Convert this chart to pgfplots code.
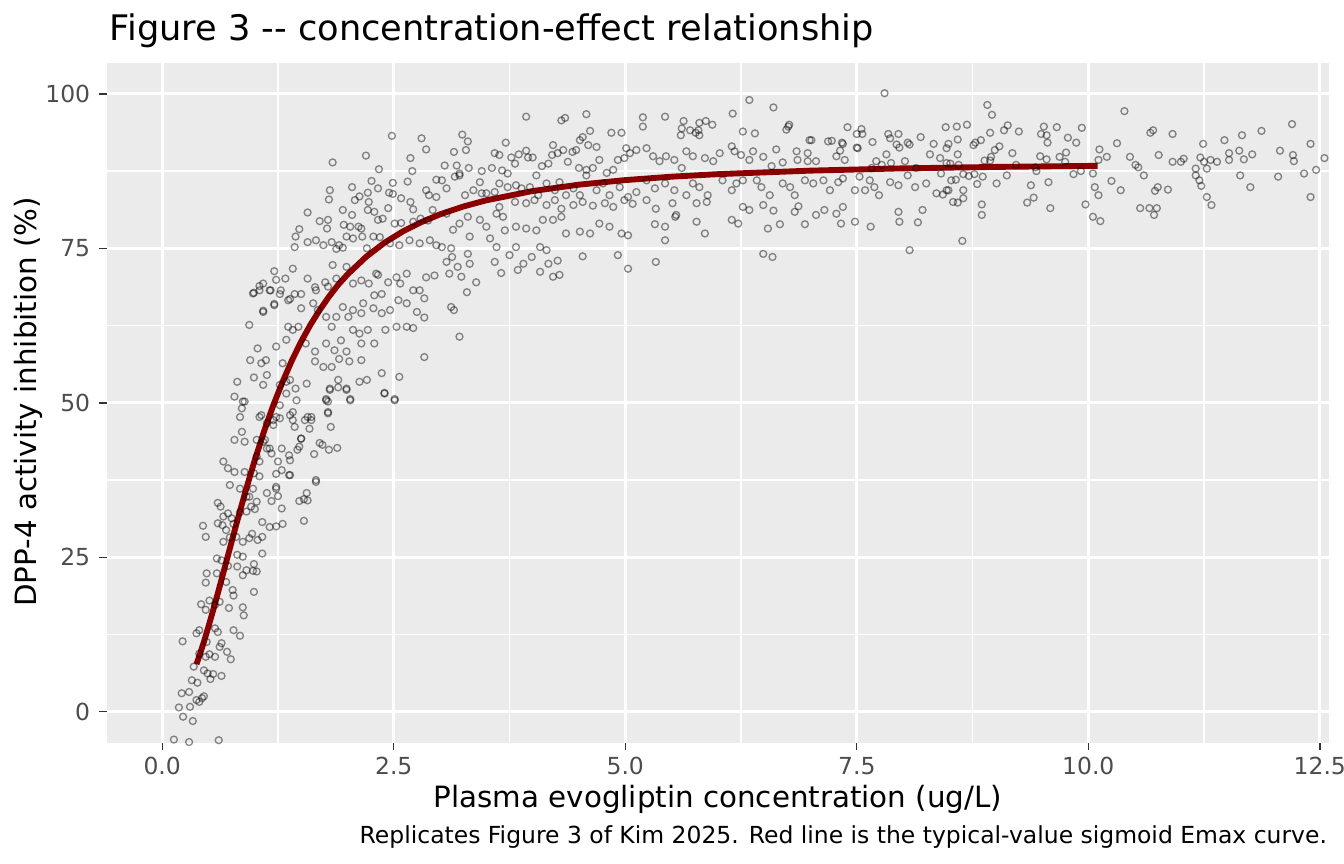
\documentclass[border=0pt]{standalone}
\usepackage{fontspec}
\setmainfont{DejaVu Sans}
\usepackage{pgfplots}
\pgfplotsset{compat=1.18}
\definecolor{panelbg}{HTML}{EBEBEB}
\definecolor{tickcol}{HTML}{333333}
\definecolor{ticklab}{HTML}{4D4D4D}
\definecolor{curvecol}{HTML}{8B0000}
\pgfplotsset{pts/.style={only marks, mark=o, mark size=1.3pt, mark options={draw=black, draw opacity=0.45, line width=0.5pt}}}
\begin{document}
\begin{tikzpicture}[x=1pt,y=1pt]
\path[use as bounding box] (0,0) rectangle (504,324);
\begin{axis}[
  at={(40pt,45.5pt)}, anchor=south west,
  width=458.4pt, height=254.9pt, scale only axis,
  xmin=-0.6, xmax=12.6, ymin=-5, ymax=105,
  axis background/.style={fill=panelbg},
  axis line style={draw=none},
  xtick={0,2.5,5,7.5,10,12.5}, xticklabels={0.0,2.5,5.0,7.5,10.0,12.5},
  ytick={0,25,50,75,100}, yticklabels={0,25,50,75,100},
  minor xtick={1.25,3.75,6.25,8.75,11.25},
  minor ytick={12.5,37.5,62.5,87.5},
  grid=both,
  major grid style={white, line width=1.07pt},
  minor grid style={white, line width=0.53pt},
  tick align=outside, tick pos=left,
  major tick length=2.75pt, minor tick length=0pt,
  major tick style={tickcol, line width=0.53pt},
  ticklabel style={font=\fontsize{8.8}{10}\selectfont, text=ticklab},
  xticklabel style={anchor=north, inner sep=0pt, yshift=-2.55pt},
  yticklabel style={anchor=east, inner sep=0pt, xshift=-3.25pt},
  clip=true,
]
% region x<2 low part
\addplot[pts] coordinates {
(0.126,-4.5) (0.29,-4.9) (0.61,-4.6) (0.225,-0.8) (0.33,-1.5) (0.18,0.7) (0.30,0.8) (0.21,3.0) (0.29,3.2) (0.32,5.1) (0.38,4.7) (0.22,11.4) (0.37,1.9) (0.40,1.6) (0.43,2.2) (0.45,2.5) (0.34,7.3) (0.45,6.7) (0.49,6.2) (0.55,6.1) (0.64,5.8) (0.52,5.3)
(0.40,9.4) (0.47,8.9) (0.51,9.3) (0.57,8.9) (0.62,10.5) (0.70,9.7) (0.74,8.5)
(0.37,12.7) (0.40,13.2) (0.48,11.3) (0.57,13.5) (0.60,12.9) (0.64,11.1) (0.77,13.2) (0.84,12.3)
(0.42,17.4) (0.47,16.5) (0.51,18.0) (0.57,17.3) (0.62,17.8) (0.72,16.8) (0.87,16.9) (0.88,15.6)
(0.48,22.4) (0.59,22.4) (0.47,20.9) (0.69,21.0) (0.76,19.7) (0.77,18.8) (0.87,22.1) (0.98,22.8) (0.99,19.4) (1.02,22.7)
(0.59,24.8) (0.64,24.5) (0.71,23.6) (0.81,23.5) (0.81,25.4) (0.87,25.1) (0.91,22.9) (0.99,23.9) (1.08,25.6)
(0.44,30.1) (0.47,28.3) (0.60,30.5) (0.65,30.2) (0.69,29.4) (0.66,27.5) (0.73,28.2) (0.80,28.3) (0.87,27.5) (0.94,28.1) (0.97,28.8) (1.03,27.8) (1.08,28.3) (1.08,30.7) (1.16,29.9) (1.23,30.0) (1.30,30.4) (1.53,30.9)
(0.60,33.8) (0.63,33.2) (0.66,31.6) (0.71,32.1) (0.75,31.3) (0.77,30.4) (0.84,32.3) (0.91,32.4) (0.91,34.8) (0.96,33.2) (1.00,32.8) (1.02,34.0) (1.05,38.1) (0.99,38.6) (1.13,35.4) (1.18,34.1) (1.23,36.1) (1.25,34.9) (1.29,32.9) (1.38,38.3) (1.48,34.1) (1.53,34.4) (1.57,34.2) (1.56,35.4) (1.66,37.2)
(0.66,40.5) (0.71,39.4) (0.78,38.8) (0.73,36.7) (0.84,36.1) (0.89,38.8) (0.94,34.8) (0.98,36.1) (1.02,41.3) (1.05,40.5) (1.09,43.7) (1.13,42.6) (1.18,41.8) (1.23,38.5) (1.25,40.5) (1.23,36.4) (1.29,39.1) (1.37,38.3) (1.37,41.5) (1.38,40.7) (1.46,42.4) (1.50,44.2) (1.48,42.9) (1.64,41.7) (1.70,43.5) (1.66,37.5) (1.73,43.2) (1.80,42.4) (1.89,42.7)
(0.78,44.0) (0.86,45.3) (0.87,50.2) (0.89,43.7) (1.02,44.0) (1.11,44.0) (1.16,42.6) (1.20,47.2) (1.07,48.0) (1.20,46.4) (1.27,47.5) (1.29,42.6) (1.34,51.5) (1.34,53.4) (1.41,48.5) (1.45,50.4) (1.41,47.2) (1.57,47.7) (1.61,47.2) (1.59,45.8) (1.50,44.2) (1.79,48.5) (1.82,46.1) (1.77,50.6) (1.81,52.3) (1.90,52.5) (1.99,52.3) (2.03,50.6) (2.40,51.6) (2.51,50.6)
};
% region x 0.8-3
\addplot[pts] coordinates {
(2.48,93.2) (2.80,92.8) (2.85,91.0) (2.20,90.0) (1.84,88.9) (2.68,89.6) (2.34,87.8) (2.70,87.5) (2.96,86.1)
(2.05,84.9) (2.26,85.9) (2.49,85.6) (2.65,85.8) (1.81,84.4) (1.80,82.9) (2.08,82.8)
(2.13,83.4) (2.22,84.0) (2.23,82.5) (2.33,84.7) (2.45,84.0) (2.49,83.8) (2.58,83.1) (2.68,82.5) (2.85,84.4) (2.88,83.6) (2.96,83.3)
(1.57,80.8) (1.70,79.4) (1.79,79.6) (1.78,78.2) (1.95,81.2) (2.05,80.4) (1.96,78.8) (2.03,78.5) (2.12,78.5) (2.15,78.2) (2.22,81.2) (2.29,80.9) (2.33,79.6) (2.38,79.8) (2.44,81.5) (2.51,79.0) (2.58,79.1) (2.71,79.3) (2.71,81.3) (2.79,79.8) (2.87,79.5) (2.92,81.2)
(1.48,78.1) (1.44,76.9) (1.43,75.2) (1.57,76.0) (1.66,76.3) (1.74,75.5) (1.83,76.0) (1.88,74.9) (1.91,75.5) (1.95,75.1) (1.99,76.9) (2.06,76.6) (2.16,76.9) (2.21,75.0) (2.28,76.9) (2.35,76.8) (2.46,75.8) (2.56,75.5) (2.67,76.3) (2.78,75.8) (2.89,76.3) (2.96,75.5)
(1.41,71.7) (1.21,71.3) (1.33,70.1) (1.23,69.9) (1.09,69.3) (1.05,68.2) (0.99,67.8) (1.16,68.2) (1.27,67.6) (1.38,66.8) (1.43,67.6) (1.50,67.6) (1.57,70.1) (1.65,68.7) (1.66,68.2) (1.76,69.5) (1.79,68.8) (1.88,70.1) (1.84,72.3) (1.99,72.0) (2.06,69.3) (2.15,69.8) (2.23,69.3) (2.31,70.9) (2.33,70.7) (2.29,67.4) (2.37,67.6) (2.44,69.5) (2.53,70.3) (2.57,69.3) (2.64,70.9) (2.71,68.2) (2.78,68.2) (2.85,70.3) (2.94,70.6) (2.83,66.9)
(0.94,62.6) (1.09,64.7) (1.21,65.8) (1.36,66.6) (1.50,65.3) (1.63,66.1) (1.68,65.0) (1.77,63.9) (1.83,62.3) (1.88,63.9) (1.95,65.5) (2.01,63.9) (2.06,65.0) (2.15,64.5) (2.17,66.1) (2.28,65.3) (2.37,64.5) (2.46,65.0) (2.55,66.6) (2.64,66.1) (2.75,64.7) (2.83,63.8)
(1.03,58.8) (1.12,56.9) (0.95,56.9) (1.07,56.4) (1.23,59.1) (1.30,56.4) (1.36,62.3) (1.34,60.2) (1.41,61.8) (1.47,62.3) (1.55,59.6) (1.65,58.3) (1.65,56.7) (1.74,55.8) (1.83,55.8) (1.77,59.6) (1.86,58.5) (1.93,60.1) (1.91,57.1) (1.99,58.3) (2.02,56.7) (2.06,61.8) (2.13,61.2) (2.22,61.8) (2.29,59.6) (2.15,59.6) (2.41,61.8) (2.53,62.3) (2.64,62.3) (2.71,62.1) (2.83,57.4) (2.56,54.2) (2.15,56.9)
(0.81,53.4) (0.99,54.1) (1.09,52.9) (1.13,54.5) (1.27,52.9) (1.38,53.7) (1.44,52.3) (1.56,53.1) (1.77,50.4) (1.81,52.1) (1.90,53.7) (1.99,52.1) (2.03,50.4) (2.13,53.4) (2.21,53.7) (2.40,51.5) (2.51,50.4) (2.37,54.8)
(0.78,51.0) (0.89,50.2) (0.86,49.1) (0.84,47.7) (1.05,47.7) (1.13,46.7) (1.23,47.7) (1.27,49.6) (1.38,48.0) (1.43,46.1) (1.54,47.2) (1.61,47.7) (1.79,48.3) (1.79,50.2)
(0.98,67.7) (1.05,68.9) (1.09,64.9) (1.21,66.0) (1.17,68.2) (1.28,68.2)
};
% region x 3-5.2
\addplot[pts] coordinates {
(3.93,96.3) (4.31,95.7) (4.35,96.1) (4.58,96.7) (3.24,93.4) (3.30,92.3) (3.28,90.9) (3.15,90.6) (3.71,92.1) (4.62,94.0) (4.54,93.0) (4.51,92.5) (4.60,91.7) (4.69,91.4) (4.85,93.7) (4.96,93.7) (5.01,91.2)
(3.05,88.4) (3.18,88.4) (3.21,86.8) (3.31,88.0) (3.45,87.5) (3.56,88.0) (3.59,90.4) (3.64,90.1) (3.67,87.6) (3.73,87.1) (3.81,88.7) (3.77,89.7) (3.85,90.2) (3.93,90.8) (3.95,89.7) (4.00,89.7) (4.04,86.8) (4.10,88.3) (4.17,88.7) (4.22,91.7) (4.21,90.1) (4.27,90.4) (4.33,90.9) (4.38,89.0) (4.43,90.6) (4.47,90.9) (4.50,88.0) (4.58,87.7) (4.65,88.0) (4.72,89.3) (4.80,87.2) (4.87,87.7) (4.92,89.3) (4.99,89.6) (5.05,90.4) (5.12,90.9)
(3.02,86.0) (3.16,86.6) (3.21,87.1) (3.07,84.7) (3.27,83.6) (3.36,84.4) (3.43,85.7) (3.45,83.9) (3.50,83.9) (3.59,84.1) (3.64,85.5) (3.73,84.9) (3.82,85.2) (3.88,84.7) (3.97,84.9) (4.06,83.6) (4.15,85.5) (4.24,84.4) (4.29,85.7) (4.36,83.6) (4.44,84.7) (4.51,83.6) (4.58,86.8) (4.69,84.4) (4.76,85.5) (4.83,83.6) (4.94,84.9) (5.03,83.3) (5.12,84.1) (3.64,81.7) (3.81,82.5) (3.93,82.3) (4.02,82.8) (4.15,82.0) (4.24,82.8) (4.31,81.4) (4.44,82.0) (4.54,82.5) (4.65,81.9) (4.78,82.3) (4.87,81.7) (4.99,82.8) (5.08,82.2)
(3.07,80.6) (3.21,79.0) (3.30,80.1) (3.43,79.6) (3.50,78.5) (3.61,80.6) (3.68,80.1) (3.70,77.9) (3.82,78.5) (3.93,78.2) (4.04,77.9) (4.11,79.6) (4.22,79.6) (4.31,80.1) (4.36,77.4) (4.51,77.7) (4.62,77.4) (4.72,79.0) (4.83,78.5) (4.96,77.4) (5.03,77.1) (3.12,75.0) (3.30,74.1) (3.54,76.6) (3.61,75.2) (3.75,73.9) (3.82,75.2) (3.90,72.5) (3.99,73.6) (4.08,75.2) (4.17,72.5) (4.27,73.0) (4.15,74.7) (4.54,73.7) (4.92,73.9) (3.32,76.9) (3.14,78.0)
(3.02,75.2) (3.07,72.8) (3.13,73.6) (3.19,72.0) (3.10,70.9) (3.23,70.4) (3.32,72.5) (3.39,69.5) (3.29,67.9) (3.12,65.5) (3.15,65.0) (3.21,60.7) (3.59,72.8) (3.66,71.0) (3.84,71.5) (4.08,71.2) (4.22,70.4) (4.29,70.7) (5.03,71.7)
};
% region x 5.2-8.5
\addplot[pts] coordinates {
(7.80,100.1) (6.34,99.0) (6.60,97.8) (5.43,96.3) (5.19,96.2) (5.19,94.7) (6.16,96.8)
(5.63,95.6) (5.61,94.4) (5.60,93.3) (5.70,94.1) (5.79,94.1) (5.80,95.3) (5.87,95.6) (5.94,95.0) (5.76,93.7) (5.80,93.3)
(6.27,93.9) (6.40,93.6) (6.76,94.7) (6.77,95.0) (6.74,94.2) (6.99,92.5) (7.01,92.5) (7.23,92.4) (7.35,91.9) (7.40,94.6) (7.55,94.3) (7.50,93.5) (7.56,93.5) (7.67,92.2) (7.84,93.5) (7.95,93.5) (7.86,92.8) (8.19,93.0) (8.33,91.9) (8.46,94.6) (8.49,91.9) (8.05,92.1) (7.93,91.8) (7.96,91.3) (7.82,90.2) (7.71,89.1) (7.50,91.3) (7.32,90.8)
(5.23,91.2) (5.30,89.9) (5.37,89.1) (5.44,89.9) (5.53,89.3) (5.61,88.0) (5.66,90.7) (5.73,89.9) (5.86,89.6) (5.95,89.1) (6.02,90.4) (6.15,91.5) (6.18,90.7) (6.25,90.1) (6.34,89.3) (6.38,90.7) (6.49,89.8) (6.63,91.0) (6.58,88.3) (6.70,88.9) (6.85,90.7) (6.86,89.3) (6.97,90.4) (6.97,89.1) (7.06,89.1) (7.19,92.3) (7.28,89.9) (7.37,89.3) (7.51,91.2) (7.66,88.0) (7.77,88.5) (7.87,88.8) (8.02,89.1) (8.14,88.0) (8.29,90.2) (8.40,89.6) (8.47,88.8) (8.47,91.2) (8.07,91.8) (7.34,92.1)
(5.23,86.0) (5.32,84.7) (5.43,85.5) (5.53,84.4) (5.66,83.6) (5.73,85.5) (5.80,84.9) (5.89,83.6) (6.05,86.0) (6.15,84.4) (6.20,85.5) (6.27,86.0) (6.42,86.0) (6.47,84.9) (6.56,83.6) (6.70,85.5) (6.78,84.9) (6.83,83.6) (6.94,86.0) (7.03,85.5) (7.14,86.0) (7.21,84.4) (7.30,85.7) (7.35,86.3) (7.48,84.4) (7.53,86.6) (7.64,86.0) (7.69,84.9) (7.74,83.6) (7.86,85.7) (7.95,85.2) (8.05,86.8) (8.13,84.9) (8.25,85.5) (8.36,83.9) (8.41,87.1) (8.47,84.4)
(5.23,82.8) (5.33,81.4) (5.51,82.3) (5.55,80.4) (5.54,80.1) (5.77,82.3) (5.88,82.5) (5.86,77.4) (6.27,81.7) (6.34,81.2) (6.49,82.0) (6.60,81.1) (6.67,78.9) (6.49,74.1) (6.59,73.6) (6.54,78.2) (6.83,80.9) (6.87,81.8) (6.94,78.9) (7.06,80.4) (7.15,81.2) (7.28,80.6) (7.35,81.7) (7.33,79.0) (7.48,79.3) (7.59,84.4) (7.65,78.5) (7.95,80.9) (7.96,79.3) (8.07,74.7) (8.16,79.2) (8.21,81.2) (8.43,83.7) (8.49,84.4) (6.15,79.6) (6.22,79.0) (5.77,79.3) (5.43,78.5) (5.43,76.3) (5.32,78.9) (5.33,72.8)
};
% region x > 8.5
\addplot[pts] coordinates {
(8.91,98.2) (8.96,96.6) (8.69,95.0) (8.58,94.7) (8.59,92.6) (8.76,91.7) (8.78,92.1) (8.84,92.5) (8.94,93.7) (9.09,94.1) (9.13,94.9) (9.25,93.9) (9.04,91.5) (8.99,90.9) (8.95,89.8) (8.88,89.2) (8.94,89.2) (9.18,90.4) (9.22,88.5) (9.12,86.8) (9.01,85.5) (8.80,85.4) (8.86,86.6) (8.77,87.0) (8.71,86.7) (8.65,87.0) (8.59,90.2) (8.60,88.5) (8.51,88.7) (8.57,86.1) (8.52,86.0) (8.65,84.4) (8.65,83.1) (8.59,82.4) (8.54,82.5) (8.85,82.1) (8.85,80.4) (8.64,76.2)
(9.52,94.7) (9.49,93.5) (9.55,93.3) (9.56,92.1) (9.66,94.6) (9.78,92.9) (9.87,92.1) (9.93,94.5) (9.48,89.9) (9.55,89.4) (9.69,89.8) (9.76,90.5) (9.75,89.0) (9.43,88.1) (9.44,87.5) (9.84,87.0) (9.92,87.5) (9.38,85.2) (9.57,85.7) (9.41,83.2) (9.34,82.4) (9.59,81.5) (9.97,82.1)
(10.05,87.1) (10.12,91.0) (10.11,89.3) (10.20,89.8) (10.07,84.9) (10.11,83.6) (10.05,80.1) (10.13,79.4) (10.25,85.9) (10.31,92.0) (10.35,84.4) (10.39,97.2) (10.45,89.8) (10.51,88.5) (10.54,88.1) (10.60,86.8) (10.67,93.7) (10.70,94.1) (10.76,90.1) (10.75,84.9) (10.72,84.3) (10.86,84.5) (10.56,81.5) (10.66,81.5) (10.74,81.5) (10.71,80.4) (10.91,93.5) (10.91,89.0)
(11.00,89.0) (11.03,89.5) (11.16,87.9) (11.16,86.8) (11.20,86.0) (11.22,85.1) (11.21,89.7) (11.24,91.9) (11.25,89.0) (11.28,87.9) (11.28,83.3) (11.33,82.0) (11.32,89.3) (11.39,89.0) (11.47,92.5) (11.52,90.4) (11.52,89.3) (11.63,90.8) (11.68,89.4) (11.66,93.3) (11.64,86.8) (11.77,90.2) (11.75,84.9) (11.87,94.0) (12.07,90.8) (12.05,86.6) (12.20,95.1) (12.21,90.1) (12.22,89.1) (12.33,87.1) (12.40,91.9) (12.40,83.3) (12.46,87.7) (12.55,89.6)
};
% typical-value sigmoid Emax curve
\addplot[curvecol, line width=2.2pt, line cap=butt, line join=round] coordinates {
(0.37,7.70) (0.40,9.0) (0.45,11.31) (0.50,13.82) (0.55,16.44) (0.60,19.16) (0.65,21.94) (0.70,24.74) (0.75,27.54) (0.80,30.33) (0.85,33.04) (0.90,35.70) (0.95,38.26) (1.00,40.75) (1.10,45.4) (1.20,49.64) (1.30,53.4) (1.40,56.85) (1.50,59.9) (1.60,62.62) (1.70,65.0) (1.80,67.17) (1.90,69.1) (2.00,70.76) (2.20,73.6) (2.40,75.9) (2.60,77.75) (2.80,79.25) (3.00,80.5) (3.25,81.76) (3.50,82.77) (4.00,84.27) (4.50,85.30) (5.00,86.04) (5.50,86.59) (6.00,87.0) (7.00,87.57) (8.00,87.94) (9.00,88.17) (10.10,88.35)
};
\end{axis}
\node[anchor=base west, inner sep=0pt, font=\fontsize{13.2}{15}\selectfont] at (40.9,308.7) {Figure 3 -\kern0pt- concentration-effect relationship};
\node[anchor=base, inner sep=0pt, font=\fontsize{11}{13}\selectfont] at (269.2,21.2) {Plasma evogliptin concentration (ug/L)};
\node[anchor=base, rotate=90, inner sep=0pt, font=\fontsize{11}{13}\selectfont] at (13.75,173.3) {DPP-4 activity inhibition (\%)};
\node[anchor=base east, inner sep=0pt, font=\fontsize{8.8}{10}\selectfont] at (497.8,7.8) {Replicates Figure 3 of Kim 2025. Red line is the typical-value sigmoid Emax curve.};
\end{tikzpicture}
\end{document}
